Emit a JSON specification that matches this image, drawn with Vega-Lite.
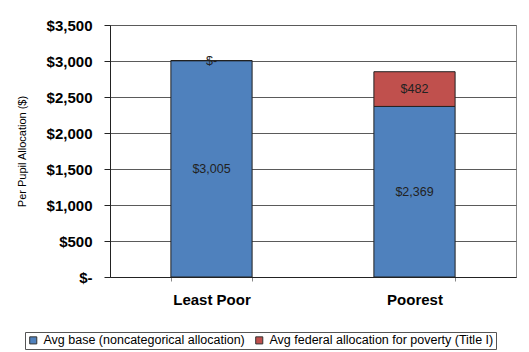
{
  "$schema": "https://vega.github.io/schema/vega-lite/v6.json",
  "width": 406,
  "height": 252,
  "autosize": {"type": "none"},
  "padding": {"left": 110, "top": 25, "right": 13, "bottom": 75},
  "background": "white",
  "data": {
    "values": [
      {"group": "Least Poor", "type": "Avg base (noncategorical allocation)", "order": 1, "value": 3005},
      {"group": "Least Poor", "type": "Avg federal allocation for poverty (Title I)", "order": 2, "value": 0},
      {"group": "Poorest", "type": "Avg base (noncategorical allocation)", "order": 1, "value": 2369},
      {"group": "Poorest", "type": "Avg federal allocation for poverty (Title I)", "order": 2, "value": 482}
    ]
  },
  "transform": [
    {"stack": "value", "groupby": ["group"], "sort": [{"field": "order"}], "as": ["v0", "v1"]},
    {"calculate": "(datum.v0 + datum.v1) / 2", "as": "mid"},
    {"calculate": "datum.value == 0 ? '$-' : '$' + format(datum.value, ',')", "as": "label"}
  ],
  "encoding": {
    "x": {
      "field": "group",
      "type": "nominal",
      "scale": {"paddingInner": 0.6, "paddingOuter": 0.3},
      "axis": {
        "title": null,
        "grid": false,
        "labelAngle": 0,
        "labelFont": "Liberation Sans",
        "labelFontSize": 15,
        "labelFontWeight": "bold",
        "labelColor": "black",
        "labelPadding": 11,
        "domainColor": "#222",
        "tickBand": "extent",
        "tickSize": 4,
        "tickColor": "#888"
      }
    }
  },
  "layer": [
    {
      "mark": {"type": "bar", "stroke": "#222", "strokeWidth": 1},
      "encoding": {
        "y": {
          "field": "v1",
          "type": "quantitative",
          "scale": {"domain": [0, 3500]},
          "axis": {
            "title": "Per Pupil Allocation ($)",
            "titleFont": "Liberation Sans",
            "titleFontSize": 11,
            "titleFontWeight": "normal",
            "titleColor": "black",
            "titleX": -88,
            "titleY": 126,
            "titleAngle": -90,
            "titleAlign": "center",
            "titleBaseline": "middle",
            "grid": true,
            "values": [0, 500, 1000, 1500, 2000, 2500, 3000, 3500],
            "labelExpr": "datum.value == 0 ? '$-' : '$' + format(datum.value, ',')",
            "labelOverlap": false,
            "labelFont": "Liberation Sans",
            "labelFontSize": 15,
            "labelFontWeight": "bold",
            "labelColor": "black",
            "labelPadding": 12,
            "tickSize": 6,
            "tickColor": "#222",
            "domainColor": "#222",
            "gridColor": "#5a5a5a",
            "gridOpacity": 1
          }
        },
        "y2": {"field": "v0"},
        "color": {
          "field": "type",
          "type": "nominal",
          "scale": {
            "domain": ["Avg base (noncategorical allocation)", "Avg federal allocation for poverty (Title I)"],
            "range": ["#4F81BD", "#C0504D"]
          },
          "legend": {
            "title": null,
            "orient": "none",
            "legendX": -85,
            "legendY": 307,
            "direction": "horizontal",
            "strokeColor": "#555",
            "padding": 2,
            "symbolType": "square",
            "symbolSize": 50,
            "symbolStrokeColor": "#333",
            "symbolStrokeWidth": 1,
            "symbolOpacity": 1,
            "labelFont": "Liberation Sans",
            "labelFontSize": 12.5,
            "labelColor": "black",
            "labelLimit": 400,
            "columnPadding": 8
          }
        }
      }
    },
    {
      "mark": {"type": "text", "font": "Liberation Sans", "fontSize": 12.5, "color": "#222", "baseline": "middle"},
      "encoding": {
        "y": {
          "field": "mid",
          "type": "quantitative",
          "scale": {"domain": [0, 3500]},
          "axis": {
            "title": "Per Pupil Allocation ($)",
            "titleFont": "Liberation Sans",
            "titleFontSize": 11,
            "titleFontWeight": "normal",
            "titleColor": "black",
            "titleX": -88,
            "titleY": 126,
            "titleAngle": -90,
            "titleAlign": "center",
            "titleBaseline": "middle",
            "grid": true,
            "values": [0, 500, 1000, 1500, 2000, 2500, 3000, 3500],
            "labelExpr": "datum.value == 0 ? '$-' : '$' + format(datum.value, ',')",
            "labelOverlap": false,
            "labelFont": "Liberation Sans",
            "labelFontSize": 15,
            "labelFontWeight": "bold",
            "labelColor": "black",
            "labelPadding": 12,
            "tickSize": 6,
            "tickColor": "#222",
            "domainColor": "#222",
            "gridColor": "#5a5a5a",
            "gridOpacity": 1
          }
        },
        "text": {"field": "label"}
      }
    }
  ],
  "config": {
    "view": {"stroke": "#888", "strokeWidth": 1}
  }
}
